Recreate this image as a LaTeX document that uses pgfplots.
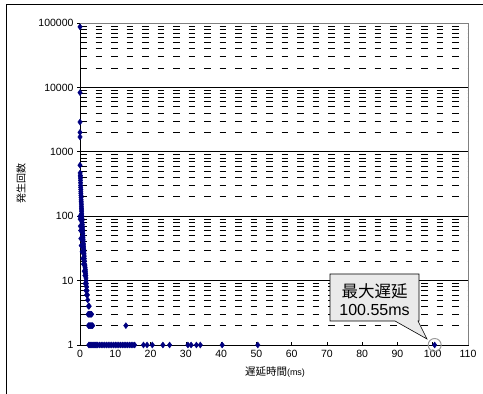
\documentclass[border=0pt]{standalone}
\usepackage{pgfplots}
\pgfplotsset{compat=1.18}
\usepackage{fontspec}
\setmainfont{Liberation Sans}
\newfontfamily\cjk{Noto Sans CJK JP}
\definecolor{navy}{RGB}{0,0,128}
\definecolor{callfill}{RGB}{234,234,234}
\begin{document}
\begin{tikzpicture}
\begin{axis}[
  at={(80pt,49pt)}, anchor=south west,
  scale only axis, width=388pt, height=322pt,
  ymode=log, ymin=1, ymax=100000,
  xmin=0, xmax=110,
  xtick={0,10,...,110},
  ytick={1,10,100,1000,10000,100000},
  yticklabels={1,10,100,1000,10000,100000},
  axis lines=left, axis line style={-, black, line width=0.8pt},
  tick align=inside, major tick length=3pt, minor tick length=0pt,
  ytick style={xshift=-3pt, black, line width=0.6pt},
  xtick style={black, line width=0.6pt},
  ymajorgrids=true, yminorgrids=true,
  major grid style={black, line width=0.7pt},
  minor grid style={black, line width=0.7pt, dash pattern=on 6.5pt off 9pt},
  /pgf/number format/assume math mode=true,
  tick label style={font=\fontsize{10.5}{12}\selectfont},
  yticklabel style={xshift=-3pt},
  xticklabel style={yshift=-2pt},
  clip=false,
]
\addplot[only marks, mark=diamond*, mark size=3pt, color=navy] table {
x y
0.00 87000
0.00 8300
0.00 2900
0.00 2000
0.00 1700
0.00 620
0.05 470
0.08 420
0.00 100
0.05 90
0.10 430
0.12 390
0.14 360
0.16 330
0.18 300
0.20 280
0.22 260
0.24 240
0.26 225
0.28 210
0.30 195
0.32 180
0.34 170
0.36 160
0.38 150
0.40 140
0.42 132
0.44 125
0.46 118
0.48 110
0.50 104
0.52 98
0.55 92
0.58 86
0.61 80
0.64 75
0.67 70
0.70 66
0.73 62
0.76 58
0.79 54
0.82 50
0.85 47
0.88 44
0.91 41
0.94 38
0.97 36
1.00 34
1.04 32
1.08 30
1.12 28
1.16 26
1.20 24
1.25 22
1.30 20
1.35 18
1.40 17
1.45 16
1.50 15
1.55 14
1.60 13
1.65 12
1.70 11
1.75 10
1.80 9
1.90 8
2.00 7
2.10 6
2.20 5
2.40 4
2.60 4
0.10 70
0.20 60
0.25 45
0.35 35
0.60 28
0.80 22
1.00 18
1.20 14
1.40 12
1.50 9
1.70 7
1.90 6
2.30 3
2.50 3
2.70 3
2.90 3
3.10 3
3.30 3
2.40 2
2.60 2
2.80 2
3.00 2
3.20 2
3.40 2
3.60 2
13.0 2
2.5 1
2.8 1
3.1 1
3.4 1
3.7 1
4.0 1
4.3 1
4.6 1
5.0 1
5.5 1
6.0 1
6.5 1
7.0 1
7.5 1
8.0 1
8.5 1
9.0 1
9.5 1
10.0 1
10.5 1
11.0 1
11.5 1
12.0 1
12.5 1
13.0 1
13.5 1
14.0 1
14.5 1
15.0 1
15.5 1
18.0 1
19.0 1
20.5 1
23.5 1
25.4 1
30.6 1
31.5 1
33.0 1
34.1 1
40.3 1
50.4 1
100.55 1
};
\draw[gray, line width=0.8pt] (rel axis cs:0,1) -- (rel axis cs:1,1) -- (rel axis cs:1,0);
\draw[gray!80, line width=1pt] (axis cs:100.55,1) circle[radius=6.5pt];
\end{axis}
% axis labels
\node[font=\fontsize{10.5}{12}\selectfont] at (275pt,22pt) {{\cjk 遅延時間}\fontsize{9}{10}\selectfont(ms)};
\node[font=\fontsize{10}{12}\selectfont\cjk, rotate=90] at (21pt,210pt) {発生回数};
% callout
\draw[black, line width=0.6pt, fill=callfill] (330pt,120pt) -- (419pt,120pt) -- (419pt,73pt) -- (418pt,73pt) -- (427pt,55pt) -- (395pt,73pt) -- (330pt,73pt) -- cycle;
\node[font=\fontsize{16.5}{18}\selectfont\cjk] at (374.5pt,102.5pt) {最大遅延};
\node[font=\fontsize{16}{18}\selectfont] at (374.5pt,84pt) {100.55ms};
% chart frame
\draw[black, line width=1pt] (6pt,-10pt) -- (6pt,389pt) -- (500pt,389pt);
\pgfresetboundingbox
\useasboundingbox (0,0) rectangle (483pt,394pt);
\end{tikzpicture}
\end{document}
